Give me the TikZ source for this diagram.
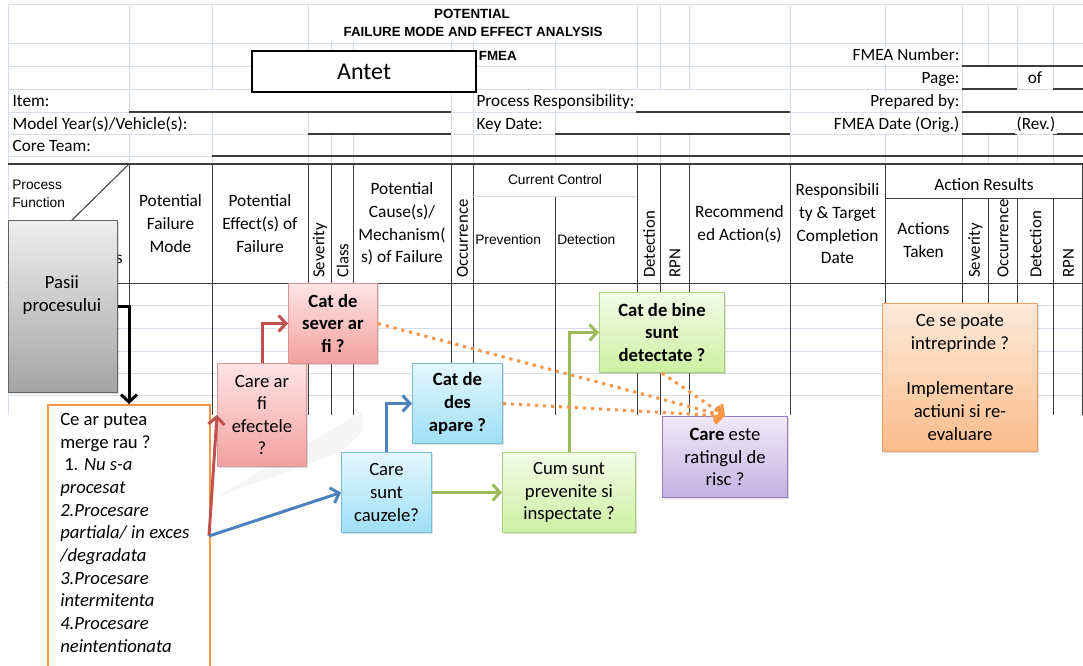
\documentclass[tikz,border=0pt]{standalone}
\usepackage{fontspec}
\setmainfont{Carlito}
\newfontfamily\arialf{Liberation Sans}
\usetikzlibrary{arrows.meta,shadows}
\definecolor{gridc}{RGB}{214,222,234}
\definecolor{tlc}{RGB}{60,60,60}
\definecolor{redA}{RGB}{192,80,77}
\definecolor{blueA}{RGB}{79,129,189}
\definecolor{greenA}{RGB}{155,187,89}
\definecolor{orangeA}{RGB}{247,150,70}
\definecolor{redT}{RGB}{255,228,228}\definecolor{redB}{RGB}{243,160,160}\definecolor{redD}{RGB}{217,149,148}
\definecolor{bluT}{RGB}{228,247,253}\definecolor{bluB}{RGB}{158,223,246}\definecolor{bluD}{RGB}{120,192,216}
\definecolor{grnT}{RGB}{243,251,232}\definecolor{grnB}{RGB}{205,240,162}\definecolor{grnD}{RGB}{170,210,120}
\definecolor{purT}{RGB}{240,234,248}\definecolor{purB}{RGB}{194,178,226}\definecolor{purD}{RGB}{150,125,190}
\definecolor{pchT}{RGB}{253,234,218}\definecolor{pchB}{RGB}{251,188,138}\definecolor{pchD}{RGB}{240,160,100}
\definecolor{gryT}{RGB}{238,238,238}\definecolor{gryB}{RGB}{164,164,164}\definecolor{gryD}{RGB}{100,100,100}
\begin{document}
\begin{tikzpicture}[x=0.75pt,y=-0.75pt,
  gridl/.style={draw=gridc,line width=0.75pt},
  tl/.style={draw=tlc,line width=0.75pt},
  uline/.style={draw=tlc,line width=0.9pt},
  hdr/.style={font=\fontsize{12.9}{15}\selectfont,fill=white,inner xsep=1pt,inner ysep=0.5pt,text height=9.5pt,text depth=3pt},
  arb/.style={font=\arialf\bfseries\fontsize{10}{12}\selectfont,inner sep=0.5pt},
  arn/.style={font=\arialf\fontsize{10.3}{13.5}\selectfont,inner sep=0pt,align=left},
  colh/.style={font=\fontsize{13}{17}\selectfont,align=center,inner sep=0pt},
  rot/.style={font=\fontsize{12.6}{15}\selectfont,rotate=90,anchor=west,inner sep=0pt},
  bt/.style={font=\fontsize{14}{17}\selectfont,align=center,inner sep=0pt},
  qbox/.style={anchor=north west,inner sep=0pt,line width=0.75pt,font=\fontsize{14}{17}\selectfont,align=center,
     drop shadow={opacity=0.25,shadow xshift=1.2pt,shadow yshift=-1.2pt}},
  redbox/.style={qbox,draw=redD,top color=redT,bottom color=redB},
  blubox/.style={qbox,draw=bluD,top color=bluT,bottom color=bluB},
  grnbox/.style={qbox,draw=grnD,top color=grnT,bottom color=grnB},
  purbox/.style={qbox,draw=purD,top color=purT,bottom color=purB},
  pchbox/.style={qbox,draw=pchD,top color=pchT,bottom color=pchB},
  grybox/.style={qbox,draw=gryD,top color=gryT,bottom color=gryB},
  barb/.style={-{Straight Barb[length=5.5pt,width=12pt]}},
  blkarr/.style={barb,draw=black,line width=2.25pt},
  redarr/.style={barb,draw=redA,line width=2.25pt},
  bluarr/.style={barb,draw=blueA,line width=2.25pt},
  grnarr/.style={barb,draw=greenA,line width=2.25pt},
  dotarr/.style={barb,draw=orangeA,line width=2.25pt,dash pattern=on 2.4pt off 3.6pt}
]
\useasboundingbox (0,0) rectangle (1083,665);
\clip (0,0) rectangle (1083,665);
\fill[white] (0,0) rectangle (1083,665);

% ---------- light spreadsheet grid ----------
\foreach \x in {8,129,212,308,331,353,451,473,555,637,660,689,790,885,962,988,1017,1053}
  \draw[gridl] (\x,4) -- (\x,164);
\foreach \y in {4,43,66,89,112,134,156}
  \draw[gridl] (8,\y) -- (1083,\y);
\foreach \y in {305,328,351,373,395}
  \draw[gridl] (8,\y) -- (1083,\y);
\draw[gridl] (8,164) -- (8,415);
% merged cells
\fill[white] (308.6,4.6) rectangle (636.4,42.4);
\fill[white] (129.6,89.6) rectangle (450.4,111.4);
\fill[white] (308.6,112.6) rectangle (450.4,133.4);
\fill[white] (473.6,89.6) rectangle (789.4,111.4);
\fill[white] (555.6,112.6) rectangle (789.4,133.4);
\fill[white] (962.6,89.6) rectangle (1083,111.4);
\fill[white] (962.6,112.6) rectangle (1016.4,133.4);
\fill[white] (962.6,66.6) rectangle (1016.4,88.4);

% ---------- header underlines ----------
\draw[uline] (129,112) -- (451,112);
\draw[uline] (308,134) -- (451,134);
\draw[uline] (212,156) -- (1083,156);
\draw[uline] (636,112) -- (790,112);
\draw[uline] (555,134) -- (790,134);
\draw[uline] (962,66) -- (1083,66);
\draw[uline] (962,89) -- (1017,89);
\draw[uline] (1053,89) -- (1083,89);
\draw[uline] (962,112) -- (1083,112);
\draw[uline] (962,134) -- (1017,134);
\draw[uline] (1053,134) -- (1083,134);

% ---------- header texts ----------
\node[arb] (t1) at (472,14) {POTENTIAL};
\node[arb] (t2) at (473,32) {FAILURE MODE AND EFFECT ANALYSIS};
\node[arb,anchor=west] (fmea) at (478,56) {FMEA};
\node[hdr,anchor=west] (item) at (11,102) {Item:};
\node[hdr,anchor=west] (model) at (11,125) {Model Year(s)/Vehicle(s):};
\node[hdr,anchor=west] (core) at (11,147) {Core Team:};
\node[hdr,anchor=west] (presp) at (475,102) {Process Responsibility:};
\node[hdr,anchor=west] (kdate) at (475,125) {Key Date:};
\node[hdr,anchor=east] (fnum) at (961,56) {FMEA Number:};
\node[hdr,anchor=east] (page) at (961,79) {Page:};
\node[hdr,anchor=east] (prep) at (961,102) {Prepared by:};
\node[hdr,anchor=east] (fdate) at (961,125) {FMEA Date (Orig.)};
\node[hdr] (of) at (1035,79) {of};
\node[hdr,anchor=west] (rev) at (1015,125) {(Rev.)};

% ---------- table lines ----------
\draw[tl,line width=1.1pt] (8,164) -- (1083,164);
\draw[tl] (8,283) -- (1083,283);
\foreach \x in {129,212,308,331,353,451,473,637,660,689,790,885,1082.5}
  \draw[tl] (\x,164) -- (\x,415);
\draw[tl] (555,196) -- (555,415);
\foreach \x in {962,988,1017,1053}
  \draw[tl] (\x,198) -- (\x,415);
\draw[tl] (885,198) -- (1083,198);
\draw[gridl] (473,196) -- (637,196);
\draw[tl] (129,164) -- (8,283);

% ---------- table header texts ----------
\node[arn,anchor=north west] (pf) at (12,180) {Process\\Function};
\node[colh,anchor=east] (req) at (123,259) {Requirements};
\node[colh] (fm) at (170.5,223.5) {Potential\\Failure\\Mode};
\node[colh] (fe) at (260,223.5) {Potential\\Effect(s) of\\Failure};
\node[rot] (sev) at (320,278) {Severity};
\node[rot] (cls) at (342.5,278) {Class};
\node[colh] (pc) at (402,224) {Potential\\Cause(s)/\\Mechanism(\\s) of Failure};
\node[rot] (occ) at (462.5,278) {Occurrence};
\node[arn] (cc) at (555,180) {Current Control};
\node[arn,anchor=west] (prev) at (475,240) {Prevention};
\node[arn,anchor=west] (det) at (557,240) {Detection};
\node[rot] (det1) at (649,278) {Detection};
\node[rot] (rpn1) at (675,278) {RPN};
\node[colh] (ra) at (739.5,224) {Recommend\\ed Action(s)};
\node[colh] (rt) at (837.5,224) {Responsibili\\ty \& Target\\Completion\\Date};
\node[colh] (ares) at (984,185) {Action Results};
\node[colh] (at) at (923.5,240) {Actions\\Taken};
\node[rot] (sev2) at (975.5,278) {Severity};
\node[rot] (occ2) at (1003,278) {Occurrence};
\node[rot] (det2) at (1035.5,278) {Detection};
\node[rot] (rpn2) at (1068.5,278) {RPN};

% ---------- Antet box ----------
\node[draw=black,line width=1.6pt,fill=white,anchor=north west,minimum width=168pt,minimum height=30.75pt,
      inner sep=0pt,font=\fontsize{18}{20}\selectfont] (antet) at (251,50) {Antet};

% ---------- ghost shape ----------
\fill[black!4] (216,497) -- (362,412) -- (362,432) -- (341,452) -- cycle;

% ---------- boxes ----------
\node[grybox,minimum width=81.75pt,minimum height=129pt] (pasii) at (8,220) {};
\node[bt] (pasiit) at (62,295) {Pasii\\procesului};
\node[anchor=north west,draw=orangeA,line width=1.5pt,fill=white,minimum width=121.5pt,minimum height=207pt,inner sep=0pt] (cebox) at (47,404) {};
\node[bt,align=left,anchor=north west] (cetext) at (60,413) {Ce ar putea\\merge rau ?\\\hspace*{3pt}1. \textit{Nu s-a}\\\textit{procesat}\\\textit{2.Procesare}\\\textit{partiala/ in exces}\\\textit{/degradata}\\\textit{3.Procesare}\\\textit{intermitenta}\\\textit{4.Procesare}\\\textit{neintentionata}};
\node[redbox,minimum width=66.75pt,minimum height=77.25pt] (efecte) at (217,363) {Care ar\\fi\\efectele\\?};
\node[redbox,minimum width=66.75pt,minimum height=60pt,font=\fontsize{14}{17}\selectfont\bfseries] (sever) at (288,283) {Cat de\\sever ar\\fi ?};
\node[blubox,minimum width=67.5pt,minimum height=60pt,font=\fontsize{14}{17}\selectfont\bfseries] (des) at (412,363) {Cat de\\des\\apare ?};
\node[blubox,minimum width=67.5pt,minimum height=60pt] (cauze) at (341,452) {Care\\sunt\\cauzele?};
\node[grnbox,minimum width=99.75pt,minimum height=60pt] (cum) at (502,452) {Cum sunt\\prevenite si\\inspectate ?};
\node[grnbox,minimum width=93.75pt,minimum height=60pt,font=\fontsize{14}{17}\selectfont\bfseries] (bine) at (599,292) {Cat de bine\\sunt\\detectate ?};
\node[purbox,minimum width=93.75pt,minimum height=60.75pt] (risc) at (662,416) {\textbf{Care} este\\ratingul de\\risc ?};
\node[pchbox,minimum width=116.25pt,minimum height=111pt] (poate) at (882,303) {Ce se poate\\intreprinde ?\\[17pt]Implementare\\actiuni si re-\\evaluare};

% ---------- connectors ----------
\coordinate (src) at (209,536);
\draw[blkarr] (pasii.east) -| (cebox.north);
\draw[redarr] (src) -- (efecte.west);
\draw[redarr] (efecte.north) |- (sever.west);
\draw[bluarr] (src) -- (cauze.west);
\draw[bluarr] (cauze.north) |- (des.west);
\draw[grnarr] (cauze.east) -- (cum.west);
\draw[grnarr] (cum.north) |- (bine.west);
\draw[dotarr] (sever.east) -- (risc.north);
\draw[dotarr] (des.east) -- (risc.north);
\draw[dotarr] (bine.south) -- (risc.north);
\end{tikzpicture}
\end{document}
